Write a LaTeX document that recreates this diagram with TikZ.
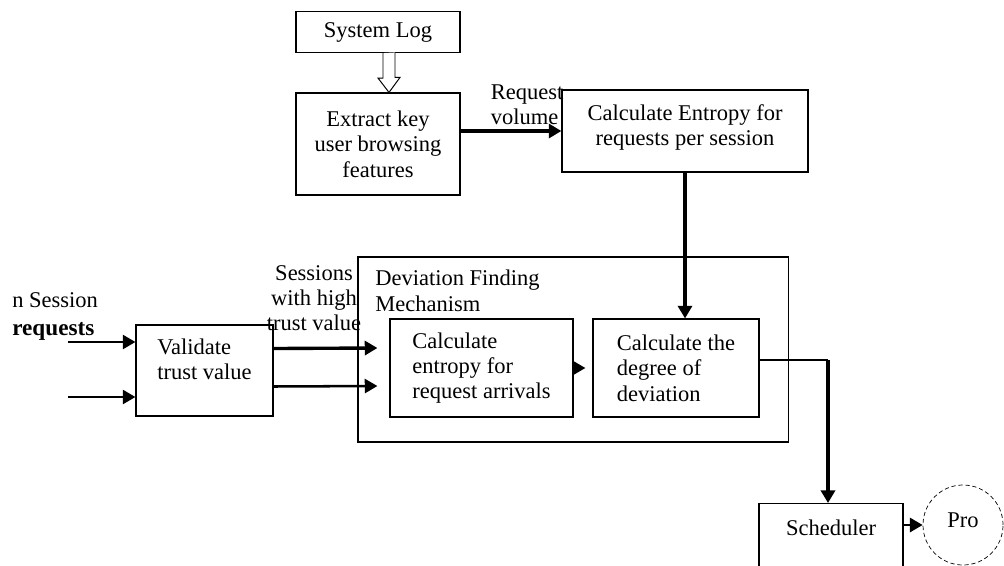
\documentclass[tikz,border=0pt]{standalone}
\usepackage{fontspec}
\setmainfont{Liberation Serif}
\usetikzlibrary{arrows.meta,positioning,calc}

\begin{document}
\begin{tikzpicture}[x=0.025cm, y=-0.025cm, every node/.style={font=\fontsize{16}{18}\selectfont},
	box/.style={draw, line width=0.8pt, inner sep=0pt},
	flow/.style={-{Triangle[length=9pt, width=10pt]}, line width=2.4pt},
	thinflow/.style={-{Triangle[length=9pt, width=10pt]}, line width=1.8pt}]
	\useasboundingbox (0,0) rectangle (1004,565);
	\clip (0,0) rectangle (1004,565);
	\fill[white] (0,0) rectangle (1004,565);

	\node[box, minimum width=4.1cm, minimum height=1.025cm] (log) at (378,32) {System Log};
	\node[box, minimum width=4.1cm, minimum height=2.55cm, align=center] (ext) at (378,144) {Extract key\\user browsing\\features};
	\node[box, minimum width=6.15cm, minimum height=2.05cm, align=center, text depth=0.3cm] (ent) at (685,131) {Calculate Entropy for\\requests per session};
	\node[align=left, inner sep=0pt] (reqvol) at (527,105) {Request\\volume};

	% deviation block
	\node[box, minimum width=10.75cm, minimum height=4.625cm] (dev) at (573,349.5) {};
	\node[align=left, anchor=north west, inner sep=0pt] (devlbl) at (375,270) {Deviation Finding\\Mechanism};
	\node[box, minimum width=4.575cm, minimum height=2.45cm, align=left] (arr) at (481.5,368) {Calculate\\entropy for\\request arrivals};
	\node[box, minimum width=4.15cm, minimum height=2.45cm, align=left] (deg) at (676,368) {Calculate the\\degree of\\deviation};

	\node[box, minimum width=3.425cm, minimum height=2.275cm, align=left, text depth=0.55cm] (val) at (204.5,370.5) {Validate\\trust value};
	\node[anchor=west, inner sep=0pt] (nsess) at (12,300) {n Session};
	\node[anchor=west, inner sep=0pt, font=\fontsize{16.5}{20}\selectfont\bfseries] (req) at (12,331) {requests};
	\node[align=center, inner sep=0pt] (sesslbl) at (314,298) {Sessions\\with high\\trust value};

	\node[box, anchor=north, minimum width=3.6cm, inner ysep=0.4cm, text depth=1.5cm] (sched) at (831,503) {Scheduler};
	\node[draw, circle, minimum size=2cm, inner sep=0pt, line width=0.5pt, densely dashed, text depth=0.25cm] (pro) at (963,525) {Pro};

	\coordinate (in1) at (68,342);
	\coordinate (in2) at (68,397);
	\coordinate (bend) at (828,360);
	\coordinate (tip) at ($(ext.north)+(11,0)$);

	\draw[line width=0.7pt, fill=white] (tip |- log.south) ++(-6,0) -- ++(0,25) -- ++(-5,0) -- (tip) -- ++(11,-15) -- ++(-5,0) -- ++(0,-25);
	\draw[flow] (ent.west -| ext.east) -- (ent.west);
	\draw[flow] (ent.south) -- (ent.south |- deg.north);
	\draw[thinflow] (in1) -- (in1 -| val.west);
	\draw[thinflow] (in2) -- (in2 -| val.west);
	\draw[flow] ($(val.east)+(0,-22)$) -- ($(arr.west)+(-12,-20)$);
	\draw[thinflow] ($(val.east)+(0,16)$) -- ($(arr.west)+(-12,18)$);
	\draw[thinflow, shorten >=5pt] (arr.east) -- (deg.west);
	\draw[line width=0.8pt] (bend -| deg.east) -- (bend);
	\draw[flow] (bend) -- (bend |- sched.north);
	\draw[thinflow] (pro.west -| sched.east) -- (pro.west);
\end{tikzpicture}
\end{document}
